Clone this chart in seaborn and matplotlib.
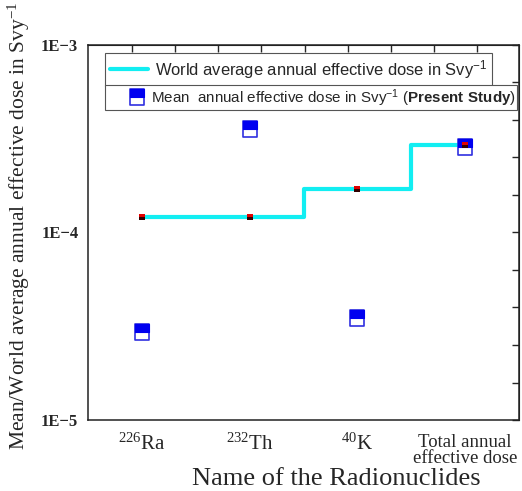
import numpy as np
import matplotlib
matplotlib.use("Agg")
import matplotlib.pyplot as plt
import seaborn as sns
from matplotlib.path import Path
from matplotlib.markers import MarkerStyle
from matplotlib.lines import Line2D
from matplotlib.legend_handler import HandlerTuple
from matplotlib.ticker import FixedLocator, NullFormatter

# data
nuclides = ["226Ra", "232Th", "40K", "Total"]
tick_labels = [r"$\mathregular{^{226}}$Ra", r"$\mathregular{^{232}}$Th",
               r"$\mathregular{^{40}}$K", "Total annual\neffective dose"]
mean_dose = [2.95e-5, 3.57e-4, 3.5e-5, 2.87e-4]
world_dose = [1.21e-4, 1.21e-4, 1.71e-4, 2.92e-4]
y_labels = ["1E\u22125", "1E\u22124", "1E\u22123"]

sns.set_style("white")
plt.rcParams["font.family"] = ["Liberation Serif", "DejaVu Serif"]
plt.rcParams["mathtext.fontset"] = "custom"
plt.rcParams["mathtext.rm"] = "Liberation Sans"
plt.rcParams["mathtext.bf"] = "Liberation Sans:bold"

fig = plt.figure(figsize=(5.22, 4.91), dpi=100)
ax = fig.add_axes([88 / 522, 71 / 491, 431 / 522, 375 / 491])
ax.set_yscale("log")

xs = np.arange(len(nuclides))
cyan = "#12eef2"

# world average step line
sns.lineplot(x=xs, y=world_dose, ax=ax, color=cyan, linewidth=3,
             drawstyle="steps-mid", zorder=2)

# half-filled markers for present study
top_half = MarkerStyle(Path([(-0.4, 0), (0.4, 0), (0.4, 0.5), (-0.4, 0.5), (-0.4, 0)], closed=True))
outline = MarkerStyle(Path([(-0.4, -0.5), (0.4, -0.5), (0.4, 0.5), (-0.4, 0.5), (-0.4, -0.5)], closed=True))
sns.scatterplot(x=xs, y=mean_dose, ax=ax, marker=outline, s=140,
                facecolor="white", edgecolor="#3030e0", linewidth=1.2, zorder=3)
sns.scatterplot(x=xs, y=mean_dose, ax=ax, marker=top_half, s=140,
                color="#0000f0", edgecolor="#0000f0", linewidth=0.8, zorder=4)

# red points on the world line
ax.plot(xs, world_dose, linestyle="none", marker="s", markersize=4.5,
        color="#e00000", markerfacecoloralt="#300000", fillstyle="top",
        markeredgewidth=0, zorder=5)

ax.set_xlim(-0.5, 3.5)
ax.set_ylim(1e-5, 1e-3)

ax.set_xticks(xs)
ax.set_xticklabels(tick_labels)
for lab in ax.get_xticklabels():
    if "Total" in lab.get_text():
        lab.set_fontsize(13.5)
        lab.set_linespacing(0.95)
    else:
        lab.set_fontsize(15)
ax.xaxis.set_minor_locator(FixedLocator(xs[:-1] + 0.5))
ax.tick_params(axis="x", which="both", direction="out", length=5, width=1, pad=5)

ax.yaxis.set_major_locator(FixedLocator([1e-5, 1e-4, 1e-3]))
ax.set_yticklabels(y_labels, fontsize=12, fontweight="bold")
ax.tick_params(axis="y", which="major", direction="inout", length=7, width=1)
ax.tick_params(axis="y", which="minor", direction="in", length=4, width=1)

for sp in ax.spines.values():
    sp.set_linewidth(1.1)
    sp.set_color("#222222")

top = ax.secondary_xaxis("top")
top.set_xticks(np.arange(-0.09, 3.5, 0.4))
top.xaxis.set_major_formatter(NullFormatter())
top.tick_params(direction="in", length=5, width=1)
right = ax.secondary_yaxis("right")
right.yaxis.set_major_locator(FixedLocator(10.0 ** np.arange(-5, -2.9, 0.2)))
right.yaxis.set_minor_locator(FixedLocator([]))
right.yaxis.set_major_formatter(NullFormatter())
right.tick_params(direction="in", length=5, width=1)

ax.set_xlabel("Name of the Radionuclides", fontsize=19)
ax.xaxis.set_label_coords(0.575, -0.127)
ax.set_ylabel(r"Mean/World average annual effective dose in Svy$\mathregular{^{-1}}$",
              fontsize=15.5)
ax.yaxis.set_label_coords(-0.13, 0.517)

# two separate legend boxes
line_h = Line2D([], [], color=cyan, linewidth=3)
leg1 = ax.legend([line_h], [r"World average annual effective dose in Svy$\mathregular{^{-1}}$"],
                 loc="upper left", bbox_to_anchor=(0.039, 0.979), borderaxespad=0,
                 frameon=True, fancybox=False, framealpha=1,
                 edgecolor="#555555", handlelength=2.3, handletextpad=0.45, borderpad=0.3,
                 prop={"family": "Liberation Sans", "size": 11.9})
leg1.get_frame().set_linewidth(0.8)
ax.add_artist(leg1)

blank = Line2D([], [], linestyle="none")
h_out = Line2D([], [], linestyle="none", marker=outline, markersize=11.8,
               markerfacecolor="white", markeredgecolor="#3030e0", markeredgewidth=1.2)
h_top = Line2D([], [], linestyle="none", marker=top_half, markersize=11.8,
               markerfacecolor="#0000f0", markeredgecolor="#0000f0", markeredgewidth=0.8)
study_handle = (blank, (h_out, h_top))
leg2 = ax.legend([study_handle],
                 [r"Mean  annual effective dose in Svy$\mathregular{^{-1}}$ ($\mathbf{Present\ Study}$)"],
                 handler_map={study_handle: HandlerTuple(ndivide=None, pad=0)},
                 loc="upper left", bbox_to_anchor=(0.039, 0.893), borderaxespad=0,
                 frameon=True, fancybox=False, framealpha=1,
                 edgecolor="#555555", handlelength=2.7, handletextpad=0.2, borderpad=0.12,
                 prop={"family": "Liberation Sans", "size": 10.9})
leg2.get_frame().set_linewidth(0.8)

fig.savefig("out.png", dpi=100)
